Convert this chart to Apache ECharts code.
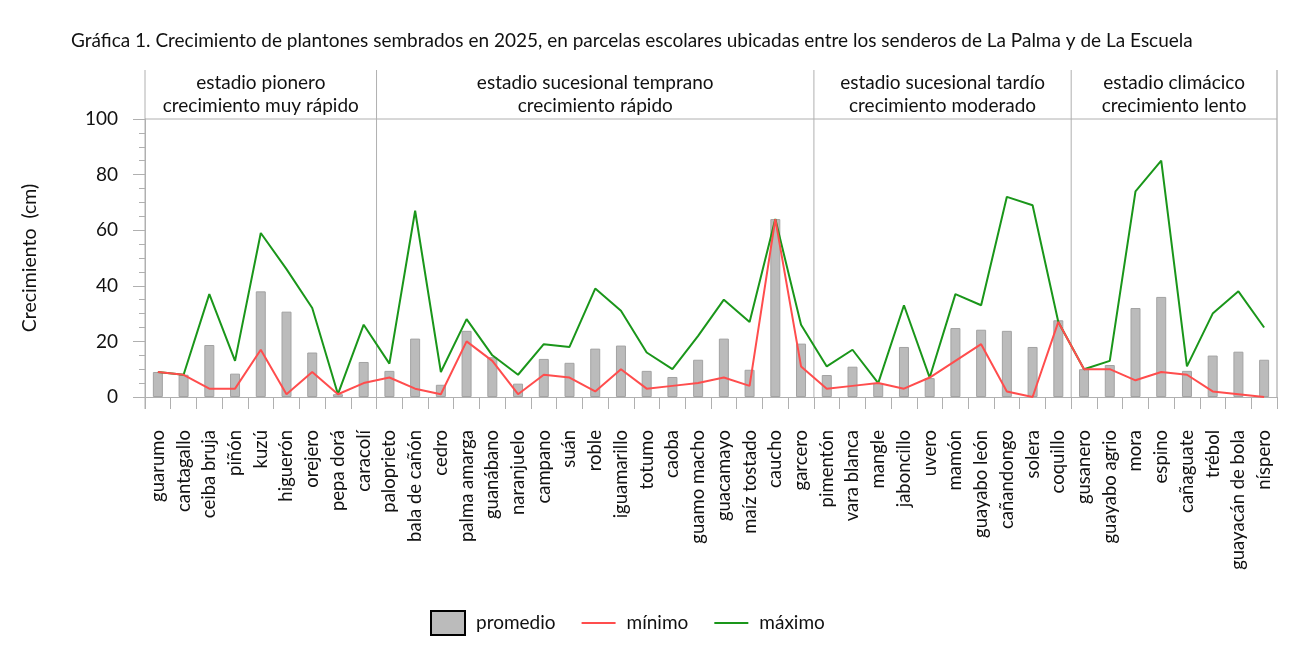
<!DOCTYPE html>
<html>
<head>
<meta charset="utf-8">
<script src="https://cdn.jsdelivr.net/npm/echarts@6/dist/echarts.min.js"></script>
<style>
  html, body { margin: 0; padding: 0; background: #fff; }
  #chart { width: 1312px; height: 661px; }
</style>
</head>
<body>
<div id="chart"></div>
<script>
var FONT = 'Lato';

var especies = [
  'guarumo', 'cantagallo', 'ceiba bruja', 'piñón', 'kuzú', 'higuerón', 'orejero', 'pepa dorá', 'caracolí',
  'paloprieto', 'bala de cañón', 'cedro', 'palma amarga', 'guanábano', 'naranjuelo', 'campano', 'suán', 'roble',
  'iguamarillo', 'totumo', 'caoba', 'guamo macho', 'guacamayo', 'maíz tostado', 'caucho', 'garcero',
  'pimentón', 'vara blanca', 'mangle', 'jaboncillo', 'uvero', 'mamón', 'guayabo león', 'cañandongo', 'solera', 'coquillo',
  'gusanero', 'guayabo agrio', 'mora', 'espino', 'cañaguate', 'trébol', 'guayacán de bola', 'níspero'
];

var promedio = [
  9, 8, 18.7, 8.4, 38, 30.7, 16, 1, 12.6,
  9.4, 21, 4.4, 23.8, 14.3, 4.8, 13.7, 12.3, 17.4, 18.5, 9.4, 7.2, 13.4, 21, 9.8, 64, 19.2,
  7.9, 10.9, 5, 18, 6.8, 24.8, 24.2, 23.8, 18, 27.6,
  10, 11.5, 32, 36, 9.4, 14.9, 16.3, 13.4
];

var minimo = [
  9, 8, 3, 3, 17, 1, 9, 1, 5,
  7, 3, 1, 20, 13, 1, 8, 7, 2, 10, 3, 4, 5, 7, 4, 64, 11,
  3, 4, 5, 3, 7, 13, 19, 2, 0, 27,
  10, 10, 6, 9, 8, 2, 1, 0
];

var maximo = [
  9, 8, 37, 13, 59, 46, 32, 1, 26,
  12, 67, 9, 28, 15, 8, 19, 18, 39, 31, 16, 10, 22, 35, 27, 64, 26,
  11, 17, 5, 33, 7, 37, 33, 72, 69, 27,
  10, 13, 74, 85, 11, 30, 38, 25
];

// etapas: nombre, primera y última especie (índices)
var etapas = ['estadio pionero', 'estadio sucesional temprano', 'estadio sucesional tardío', 'estadio climácico'];
var ritmos = ['crecimiento muy rápido', 'crecimiento rápido', 'crecimiento moderado', 'crecimiento lento'];
var etapaInicio = [0, 9, 26, 36];
var etapaFin = [8, 25, 35, 43];

var yTicks = [0, 20, 40, 60, 80, 100];

var GRAY = '#b0b0b0';

var chart = echarts.init(document.getElementById('chart'));

var option = {
  animation: false,
  textStyle: { fontFamily: FONT, color: '#111' },
  title: {
    text: 'Gráfica 1. Crecimiento de plantones sembrados en 2025, en parcelas escolares ubicadas entre los senderos de La Palma y de La Escuela',
    left: 66,
    top: 26,
    textStyle: { fontFamily: FONT, fontSize: 19, fontWeight: 'normal', color: '#111' }
  },
  legend: {
    bottom: 20,
    left: 425,
    itemWidth: 34,
    itemHeight: 24,
    itemGap: 26,
    textStyle: { fontFamily: FONT, fontSize: 19, color: '#111', padding: [0, 0, 0, 6] },
    data: [
      { name: 'promedio', icon: 'rect', itemStyle: { color: '#bbbbbb', borderColor: '#000', borderWidth: 2 } },
      { name: 'mínimo', icon: 'path://M0,11 L34,11 L34,13 L0,13 Z' },
      { name: 'máximo', icon: 'path://M0,11 L34,11 L34,13 L0,13 Z' }
    ]
  },
  grid: { left: 145, right: 35, top: 119, bottom: 264 },
  xAxis: {
    type: 'category',
    data: especies,
    axisLine: { lineStyle: { color: GRAY, width: 1 } },
    axisTick: { show: true, length: 12, lineStyle: { color: GRAY } },
    axisLabel: {
      interval: 0,
      rotate: 90,
      margin: 33,
      fontFamily: FONT,
      fontSize: 18.5,
      color: '#111'
    }
  },
  yAxis: {
    type: 'value',
    min: 0,
    max: 100,
    interval: 20,
    name: 'Crecimiento  (cm)',
    nameLocation: 'middle',
    nameGap: 105,
    nameTextStyle: { fontFamily: FONT, fontSize: 19.5, color: '#111' },
    axisLine: { show: true, lineStyle: { color: GRAY, width: 1 } },
    axisTick: { show: true, length: 12, lineStyle: { color: GRAY } },
    minorTick: { show: true, splitNumber: 4, length: 6, lineStyle: { color: GRAY } },
    splitLine: { show: false },
    axisLabel: {
      margin: 27,
      fontFamily: FONT,
      fontSize: 19,
      color: '#111',
      formatter: function (v) { return yTicks.indexOf(v) >= 0 ? String(v) : ''; }
    }
  },
  series: [
    {
      name: 'promedio',
      type: 'bar',
      data: promedio,
      barWidth: 10,
      itemStyle: { color: '#bbbbbb', borderColor: '#a3a3a3', borderWidth: 1 },
      z: 1
    },
    {
      name: 'mínimo',
      type: 'line',
      data: minimo,
      symbol: 'none',
      itemStyle: { color: '#ff4d4d' },
      lineStyle: { color: '#ff4d4d', width: 2 },
      z: 3
    },
    {
      name: 'máximo',
      type: 'line',
      data: maximo,
      symbol: 'none',
      itemStyle: { color: '#1a961a' },
      lineStyle: { color: '#1a961a', width: 2 },
      z: 2
    }
  ]
};

chart.setOption(option);

// marco y encabezados de etapas a partir de las escalas del gráfico
function drawStages() {
  var y0 = chart.convertToPixel({ yAxisIndex: 0 }, 0);
  var y100 = chart.convertToPixel({ yAxisIndex: 0 }, 100);
  var headTop = y100 - 49;
  var step = chart.convertToPixel({ xAxisIndex: 0 }, 1) - chart.convertToPixel({ xAxisIndex: 0 }, 0);
  var xLeft = chart.convertToPixel({ xAxisIndex: 0 }, 0) - step / 2;
  var xRight = chart.convertToPixel({ xAxisIndex: 0 }, especies.length - 1) + step / 2;
  var els = [];
  var line = function (x1, y1, x2, y2, c) {
    els.push({ type: 'line', shape: { x1: x1, y1: y1, x2: x2, y2: y2 }, style: { stroke: c || GRAY, lineWidth: 1 }, z: 0 });
  };
  line(xLeft, headTop, xLeft, y0 + 12);
  line(xRight, headTop, xRight, y0, '#999');
  line(xLeft, y100, xRight, y100);
  etapas.forEach(function (name, i) {
    var a = xLeft + step * etapaInicio[i];
    var b = xLeft + step * (etapaFin[i] + 1);
    if (i > 0) line(a, headTop, a, y0);
    els.push({
      type: 'text',
      x: (a + b) / 2,
      y: headTop + 1,
      style: {
        text: name + '\n' + ritmos[i],
        align: 'center',
        verticalAlign: 'top',
        fontFamily: FONT,
        fontSize: 19,
        lineHeight: 23,
        fill: '#111'
      }
    });
  });
  chart.setOption({ graphic: els });
}
drawStages();
</script>
</body>
</html>
